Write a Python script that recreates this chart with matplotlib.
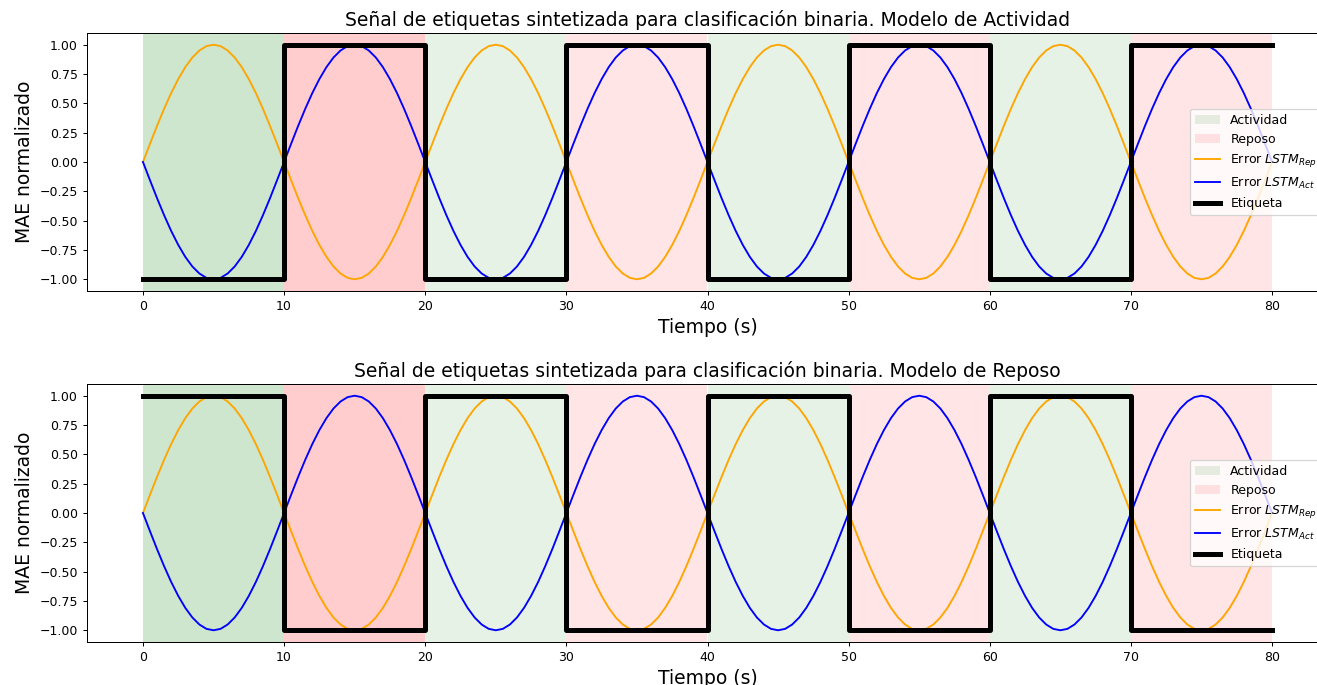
import matplotlib
matplotlib.use("Agg")
import matplotlib.pyplot as plt

# time samples (s), every half second
tiempo = [i * 0.5 for i in range(161)]

# Error LSTM_Rep (orange), one sample every 0.5 s
error_rep = [
    0.000, 0.156, 0.309, 0.454, 0.588, 0.707, 0.809, 0.891, 0.951, 0.988,
    1.000, 0.988, 0.951, 0.891, 0.809, 0.707, 0.588, 0.454, 0.309, 0.156,
    0.000, -0.156, -0.309, -0.454, -0.588, -0.707, -0.809, -0.891, -0.951, -0.988,
    -1.000, -0.988, -0.951, -0.891, -0.809, -0.707, -0.588, -0.454, -0.309, -0.156,
    0.000, 0.156, 0.309, 0.454, 0.588, 0.707, 0.809, 0.891, 0.951, 0.988,
    1.000, 0.988, 0.951, 0.891, 0.809, 0.707, 0.588, 0.454, 0.309, 0.156,
    0.000, -0.156, -0.309, -0.454, -0.588, -0.707, -0.809, -0.891, -0.951, -0.988,
    -1.000, -0.988, -0.951, -0.891, -0.809, -0.707, -0.588, -0.454, -0.309, -0.156,
    0.000, 0.156, 0.309, 0.454, 0.588, 0.707, 0.809, 0.891, 0.951, 0.988,
    1.000, 0.988, 0.951, 0.891, 0.809, 0.707, 0.588, 0.454, 0.309, 0.156,
    0.000, -0.156, -0.309, -0.454, -0.588, -0.707, -0.809, -0.891, -0.951, -0.988,
    -1.000, -0.988, -0.951, -0.891, -0.809, -0.707, -0.588, -0.454, -0.309, -0.156,
    0.000, 0.156, 0.309, 0.454, 0.588, 0.707, 0.809, 0.891, 0.951, 0.988,
    1.000, 0.988, 0.951, 0.891, 0.809, 0.707, 0.588, 0.454, 0.309, 0.156,
    0.000, -0.156, -0.309, -0.454, -0.588, -0.707, -0.809, -0.891, -0.951, -0.988,
    -1.000, -0.988, -0.951, -0.891, -0.809, -0.707, -0.588, -0.454, -0.309, -0.156,
    0.000,
]

# Error LSTM_Act (blue), one sample every 0.5 s
error_act = [
    0.000, -0.156, -0.309, -0.454, -0.588, -0.707, -0.809, -0.891, -0.951, -0.988,
    -1.000, -0.988, -0.951, -0.891, -0.809, -0.707, -0.588, -0.454, -0.309, -0.156,
    0.000, 0.156, 0.309, 0.454, 0.588, 0.707, 0.809, 0.891, 0.951, 0.988,
    1.000, 0.988, 0.951, 0.891, 0.809, 0.707, 0.588, 0.454, 0.309, 0.156,
    0.000, -0.156, -0.309, -0.454, -0.588, -0.707, -0.809, -0.891, -0.951, -0.988,
    -1.000, -0.988, -0.951, -0.891, -0.809, -0.707, -0.588, -0.454, -0.309, -0.156,
    0.000, 0.156, 0.309, 0.454, 0.588, 0.707, 0.809, 0.891, 0.951, 0.988,
    1.000, 0.988, 0.951, 0.891, 0.809, 0.707, 0.588, 0.454, 0.309, 0.156,
    0.000, -0.156, -0.309, -0.454, -0.588, -0.707, -0.809, -0.891, -0.951, -0.988,
    -1.000, -0.988, -0.951, -0.891, -0.809, -0.707, -0.588, -0.454, -0.309, -0.156,
    0.000, 0.156, 0.309, 0.454, 0.588, 0.707, 0.809, 0.891, 0.951, 0.988,
    1.000, 0.988, 0.951, 0.891, 0.809, 0.707, 0.588, 0.454, 0.309, 0.156,
    0.000, -0.156, -0.309, -0.454, -0.588, -0.707, -0.809, -0.891, -0.951, -0.988,
    -1.000, -0.988, -0.951, -0.891, -0.809, -0.707, -0.588, -0.454, -0.309, -0.156,
    0.000, 0.156, 0.309, 0.454, 0.588, 0.707, 0.809, 0.891, 0.951, 0.988,
    1.000, 0.988, 0.951, 0.891, 0.809, 0.707, 0.588, 0.454, 0.309, 0.156,
    0.000,
]

# segment boundaries (s) and labels
limites = [0, 10, 20, 30, 40, 50, 60, 70, 80]
actividad_tramos = [(0, 10), (20, 30), (40, 50), (60, 70)]
reposo_tramos = [(10, 20), (30, 40), (50, 60), (70, 80)]
etiqueta_actividad = [-1, 1, -1, 1, -1, 1, -1, 1, 1]
etiqueta_reposo = [1, -1, 1, -1, 1, -1, 1, -1, -1]

titulos = [
    "Señal de etiquetas sintetizada para clasificación binaria. Modelo de Actividad",
    "Señal de etiquetas sintetizada para clasificación binaria. Modelo de Reposo",
]
etiquetas = [etiqueta_actividad, etiqueta_reposo]

W, H = 1317, 685
DPI = 90
fig = plt.figure(figsize=(W / DPI, H / DPI), dpi=DPI)

left_px, right_px = 86.5, 1328.5
boxes = [(33, 291), (384, 642)]

for (top_px, bot_px), titulo, etiqueta in zip(boxes, titulos, etiquetas):
    ax = fig.add_axes([left_px / W, 1 - bot_px / H,
                       (right_px - left_px) / W, (bot_px - top_px) / H])
    # first spans drawn twice (darker), as in the reference
    h_act = ax.axvspan(actividad_tramos[0][0], actividad_tramos[0][1],
                       color="green", alpha=0.1, lw=0)
    h_rep = ax.axvspan(reposo_tramos[0][0], reposo_tramos[0][1],
                       color="red", alpha=0.1, lw=0)
    for a, b in actividad_tramos:
        ax.axvspan(a, b, color="green", alpha=0.1, lw=0)
    for a, b in reposo_tramos:
        ax.axvspan(a, b, color="red", alpha=0.1, lw=0)
    l1, = ax.plot(tiempo, error_rep, color="orange", lw=1.5)
    l2, = ax.plot(tiempo, error_act, color="blue", lw=1.5)
    l3, = ax.step(limites, etiqueta, where="post", color="black", lw=4)
    ax.set_xlim(-4, 84)
    ax.set_ylim(-1.1, 1.1)
    ax.set_yticks([-1.0, -0.75, -0.5, -0.25, 0.0, 0.25, 0.5, 0.75, 1.0])
    ax.set_xticks([0, 10, 20, 30, 40, 50, 60, 70, 80])
    ax.set_title(titulo, fontsize=15)
    ax.set_xlabel("Tiempo (s)", fontsize=15)
    ax.set_ylabel("MAE normalizado", fontsize=15)
    ax.legend([h_act, h_rep, l1, l2, l3],
              ["Actividad", "Reposo", "Error $LSTM_{Rep}$",
               "Error $LSTM_{Act}$", "Etiqueta"],
              loc="center right")

fig.savefig("out.png", dpi=DPI)
